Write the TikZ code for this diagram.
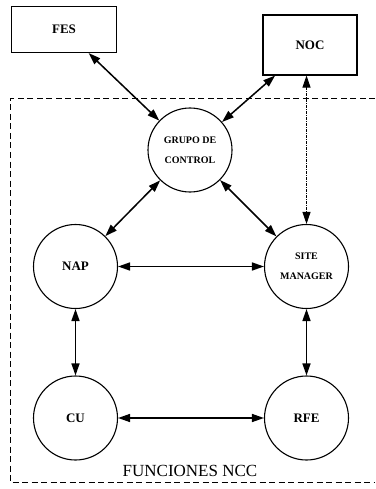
\documentclass[tikz,border=0pt]{standalone}
\usepackage{fontspec}
\setmainfont{Liberation Serif}
\usetikzlibrary{arrows.meta}
\begin{document}
\begin{tikzpicture}[x=1pt,y=-1pt,
  tip/.tip={Triangle[length=12pt,width=8pt]},
  ext/.style={draw,line width=1.1pt,minimum width=105pt,minimum height=46pt,inner sep=0pt,font=\bfseries\fontsize{13}{14}\selectfont},
  func/.style={draw,circle,line width=1.1pt,minimum size=84pt,inner sep=0pt,font=\bfseries\fontsize{13}{14}\selectfont,align=center},
  small/.style={font=\bfseries\fontsize{10}{20}\selectfont},
  link/.style={line width=1.5pt,tip-tip},
  thinlink/.style={line width=0.9pt,dash pattern=on 3pt off 1pt on 1pt off 1pt,tip-tip},
  frame/.style={line width=1pt,dash pattern=on 6pt off 3.5pt}]
\useasboundingbox (0,0) rectangle (375,489);
% outer functions
\node[ext] (fes) at (64,29.5) {FES};
\node[ext,minimum width=94pt,minimum height=60pt] (noc) at (310,45) {NOC};
% NCC frame, open at the right edge
\draw[frame] (375,99) -- (10,99) -- (10,482) -- (375,482);
\node[font=\fontsize{17}{18}\selectfont] (lbl) at (190,471) {FUNCIONES NCC};
% NCC functions
\node[func,small] (gc) at (190,150) {GRUPO DE\\CONTROL};
\node[func] (nap) at (75.5,266.5) {NAP};
\node[func,small] (sm) at (306.5,266.5) {SITE\\MANAGER};
\node[func] (cu) at (75.5,418) {CU};
\node[func] (rfe) at (306.5,418) {RFE};
% connections
\draw[link] (fes) -- (gc);
\draw[link] (noc) -- (gc);
\draw[thinlink] (noc.south -| sm.north) -- (sm.north);
\draw[link] (gc) -- (nap);
\draw[link] (gc) -- (sm);
\draw[link] (nap) -- (sm);
\draw[link] (nap) -- (cu);
\draw[link] (sm) -- (rfe);
\draw[link] (cu) -- (rfe);
\end{tikzpicture}
\end{document}
